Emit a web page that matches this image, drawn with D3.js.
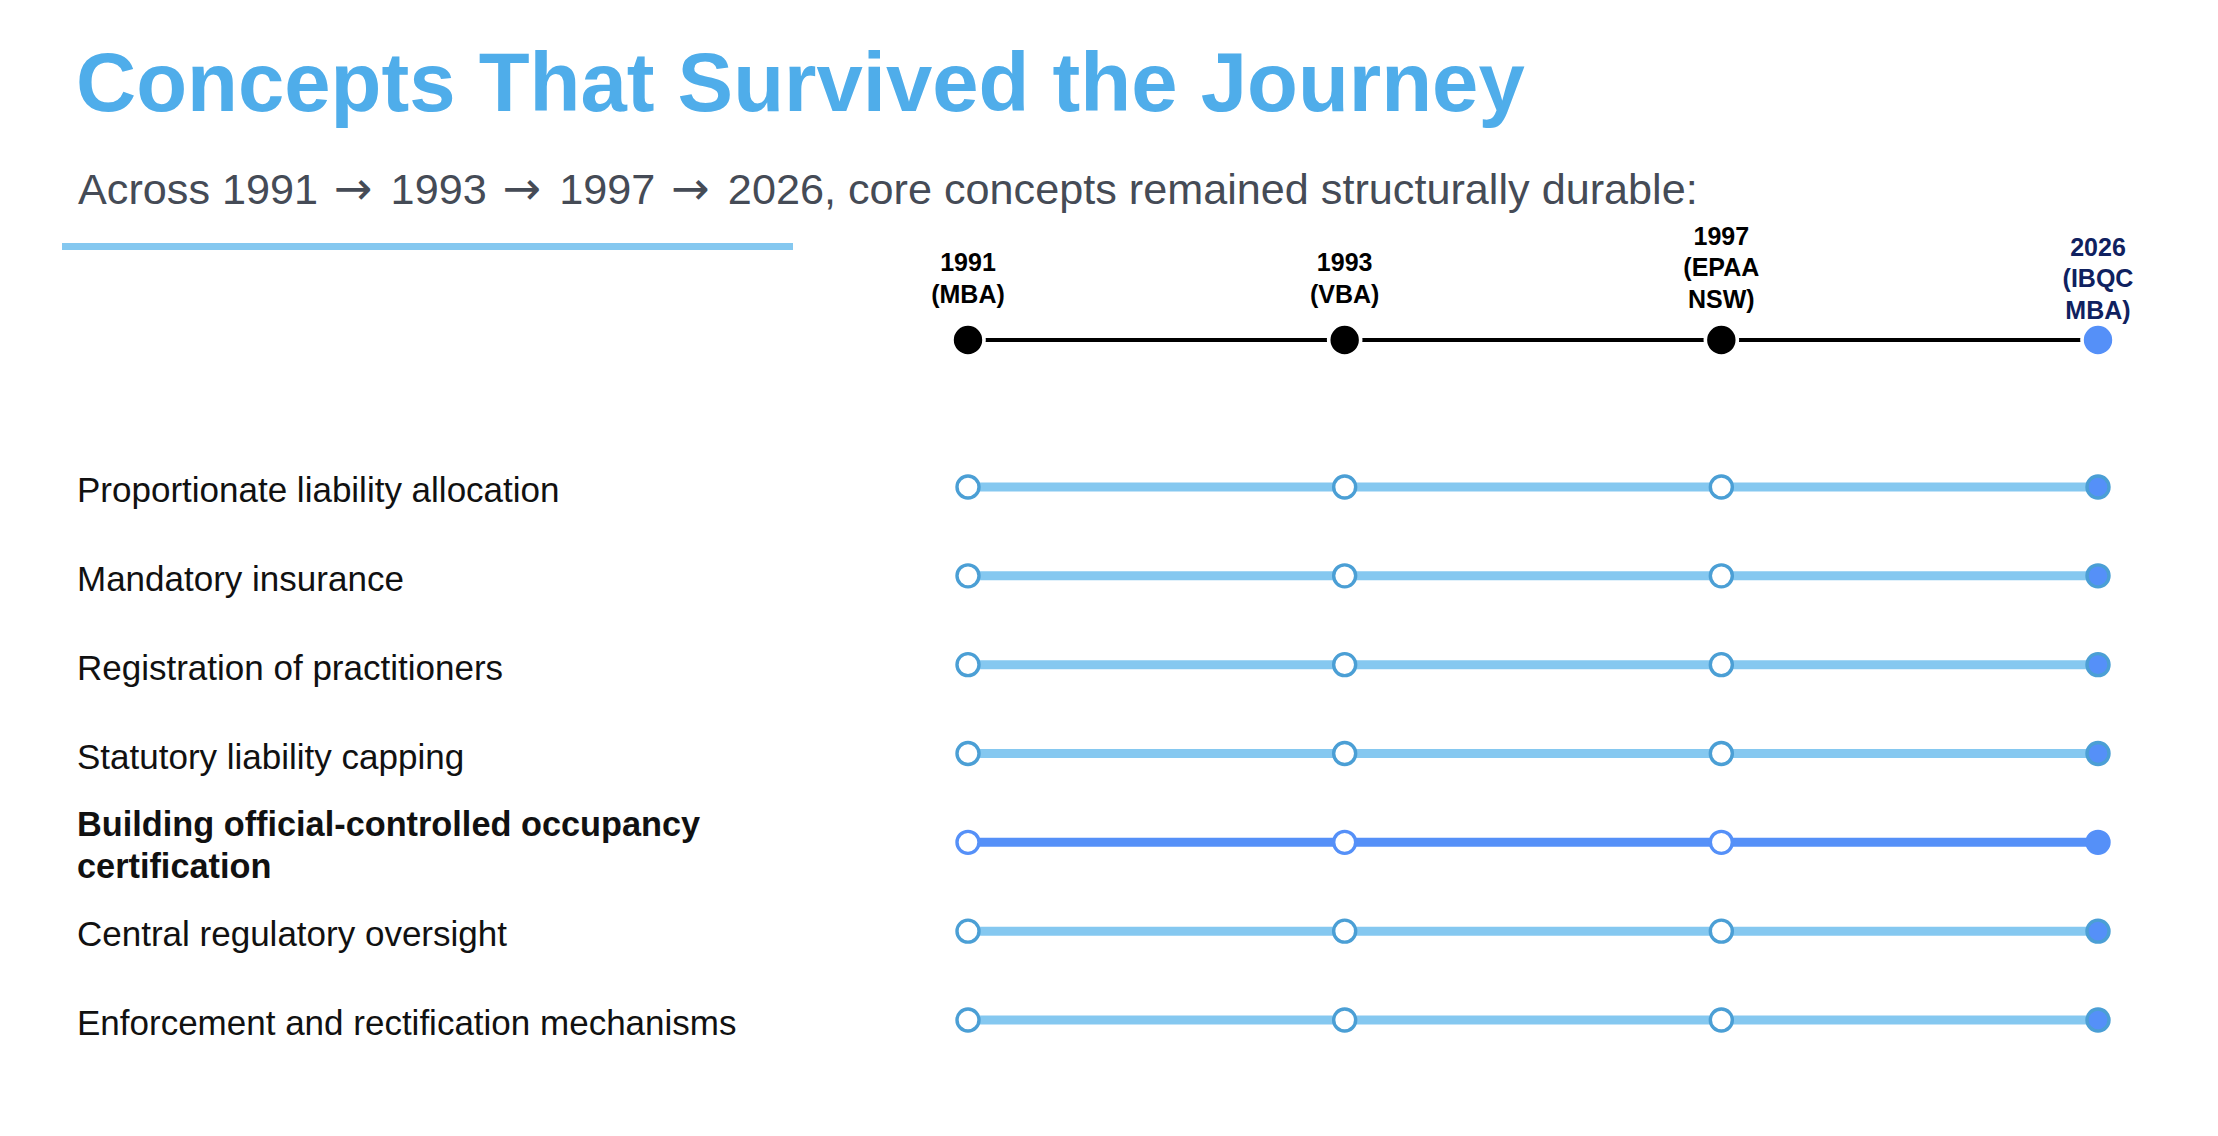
<!DOCTYPE html>
<html>
<head>
<meta charset="utf-8">
<script src="https://cdn.jsdelivr.net/npm/d3@7"></script>
<style>
  body { margin: 0; background: #fff; }
  svg { display: block; font-family: Helvetica, "Liberation Sans", Arial, sans-serif; }
</style>
</head>
<body>
<div id="chart"></div>
<script>
const titleText = "Concepts That Survived the Journey";
const subtitleText = "Across 1991 \u2192 1993 \u2192 1997 \u2192 2026, core concepts remained structurally durable:";

const stages = ["1991 (MBA)", "1993 (VBA)", "1997 (EPAA NSW)", "2026 (IBQC MBA)"];
const currentStage = "2026 (IBQC MBA)";

const concepts = [
    "Proportionate liability allocation",
    "Mandatory insurance",
    "Registration of practitioners",
    "Statutory liability capping",
    "Building official-controlled occupancy certification",
    "Central regulatory oversight",
    "Enforcement and rectification mechanisms"
];
const highlighted = "Building official-controlled occupancy certification";

const colours = {
    title: "#4fadea",
    subtitle: "#454b56",
    rule: "#85c8f0",
    track: "#85c8f0",
    ring: "#4b9fd5",
    accent: "#5590f8",
    navy: "#0f2160"
};

const W = 2218, H = 1136;
const svg = d3.select("#chart").append("svg")
    .attr("width", W)
    .attr("height", H);

svg.append("rect").attr("width", W).attr("height", H).attr("fill", "#fff");

// word wrap into tspans, lines centred on a given baseline
function wrap(sel, width, lineHeight, centreY) {
    sel.each(function () {
        const text = d3.select(this);
        const words = text.text().split(/\s+/);
        const x = text.attr("x");
        text.text(null);
        let lines = [], line = [];
        const probe = text.append("tspan").attr("x", x);
        words.forEach(w => {
            line.push(w);
            probe.text(line.join(" "));
            if (probe.node().getComputedTextLength() > width && line.length > 1) {
                line.pop();
                lines.push(line.join(" "));
                line = [w];
            }
        });
        lines.push(line.join(" "));
        probe.remove();
        const n = lines.length;
        lines.forEach((l, i) => {
            text.append("tspan")
                .attr("x", x)
                .attr("y", centreY + (i - (n - 1) / 2) * lineHeight)
                .text(l);
        });
    });
}

// heading
svg.append("text")
    .attr("x", 76).attr("y", 111)
    .attr("fill", colours.title)
    .attr("font-size", 83.3)
    .attr("font-weight", "bold")
    .text(titleText);

// arrows get a font that has a full-width arrow glyph
const sub = svg.append("text")
    .attr("x", 78).attr("y", 204)
    .attr("fill", colours.subtitle)
    .attr("font-size", 43.2);
subtitleText.split("\u2192").forEach((part, i) => {
    if (i > 0) {
        sub.append("tspan")
            .attr("font-family", "'DejaVu Sans', sans-serif")
            .attr("font-size", 46)
            .attr("dx", 4)
            .text("\u2192");
    }
    sub.append("tspan").attr("dx", i > 0 ? 6 : 0).text(part);
});

svg.append("line")
    .attr("x1", 62).attr("x2", 793)
    .attr("y1", 246.5).attr("y2", 246.5)
    .attr("stroke", colours.rule)
    .attr("stroke-width", 7);

// scales
const x = d3.scalePoint().domain(stages).range([968, 2098]);
const y = d3.scalePoint().domain(concepts).range([487, 1020]);
const headerY = 340;

// timeline header
const header = svg.append("g").attr("class", "timeline");

header.append("path")
    .attr("d", d3.line().x(d => x(d)).y(headerY)(stages))
    .attr("fill", "none")
    .attr("stroke", "#000")
    .attr("stroke-width", 4);

header.selectAll("circle")
    .data(stages)
    .join("circle")
    .attr("cx", d => x(d))
    .attr("cy", headerY)
    .attr("r", 16)
    .attr("fill", d => d === currentStage ? colours.accent : "#000")
    .attr("stroke", "#fff")
    .attr("stroke-width", 3.6);

const labelShift = { "1997 (EPAA NSW)": -11 };

header.selectAll("text")
    .data(stages)
    .join("text")
    .attr("x", d => x(d))
    .attr("text-anchor", "middle")
    .attr("font-size", 25)
    .attr("font-weight", "bold")
    .attr("fill", d => d === currentStage ? colours.navy : "#000")
    .text(d => d)
    .each(function (d) {
        d3.select(this).call(wrap, 90, 31.5, 287 + (labelShift[d] || 0));
    });

// concept rows
const rows = svg.append("g").attr("class", "rows")
    .selectAll("g")
    .data(concepts)
    .join("g")
    .attr("transform", d => `translate(0,${y(d)})`);

rows.append("text")
    .attr("x", 77)
    .attr("font-size", d => d === highlighted ? 34.3 : 35)
    .attr("font-weight", d => d === highlighted ? "bold" : "normal")
    .attr("fill", "#111")
    .text(d => d)
    .each(function () {
        d3.select(this).call(wrap, 760, 42, 15);
    });

rows.append("path")
    .attr("d", d3.line().x(s => x(s)).y(0)(stages))
    .attr("fill", "none")
    .attr("stroke", d => d === highlighted ? colours.accent : colours.track)
    .attr("stroke-width", 9);

rows.selectAll("circle")
    .data(d => stages.map(s => ({ concept: d, stage: s })))
    .join("circle")
    .attr("cx", d => x(d.stage))
    .attr("cy", 0)
    .attr("r", 11)
    .attr("fill", d => d.stage === currentStage ? colours.accent : "#fff")
    .attr("stroke", d => d.concept === highlighted ? colours.accent : colours.ring)
    .attr("stroke-width", 3.4);
</script>
</body>
</html>
